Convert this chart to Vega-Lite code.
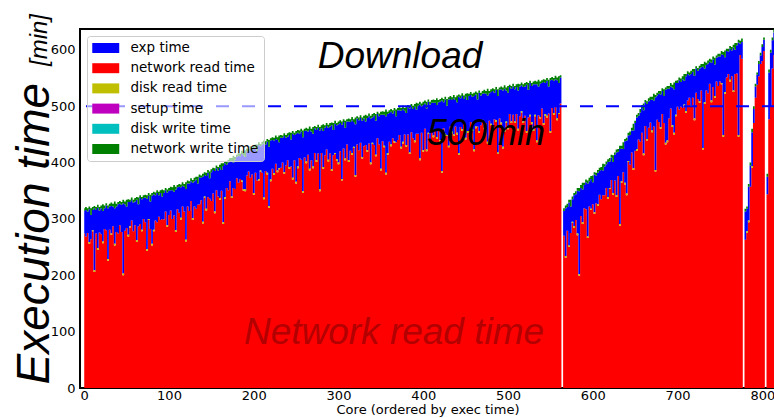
{
"$schema": "https://vega.github.io/schema/vega-lite/v6.json",
"width": 695, "height": 359,
"autosize": {"type": "none"},
"padding": {"left": 80, "top": 29, "right": 0, "bottom": 30},
"background": "white",
"config": {"view": {"stroke": "black", "strokeWidth": 2}, "axis": {"grid": false, "domain": false, "ticks": false}},
"layer": [
{
"data": {"values": [
{"i":0,"a":274,"c":40,"d":5},{"i":2,"a":269,"c":47,"d":5},{"i":4,"a":275,"c":38,"d":6},{"i":6,"a":256,"b":3,"c":58,"d":5},{"i":8,"a":264,"c":43,"d":12},{"i":10,"a":278,"b":2,"c":36,"d":5},{"i":12,"a":206,"b":3,"c":110,"d":4},{"i":14,"a":274,"c":42,"d":5},{"i":16,"a":245,"b":3,"c":72,"d":5},{"i":18,"a":276,"c":39,"d":6},
{"i":20,"a":273,"c":46,"d":5},{"i":22,"a":257,"b":3,"c":54,"d":12},{"i":24,"a":282,"c":37,"d":5},{"i":26,"a":280,"c":44,"d":4},{"i":28,"a":226,"b":3,"c":90,"d":5},{"i":30,"a":281,"c":41,"d":5},{"i":32,"a":272,"b":2,"c":49,"d":6},{"i":34,"a":287,"c":35,"d":5},{"i":36,"a":253,"b":3,"c":63,"d":12},{"i":38,"a":277,"c":45,"d":5},
{"i":40,"a":274,"c":52,"d":4},{"i":42,"a":289,"c":38,"d":5},{"i":44,"a":277,"c":48,"d":5},{"i":46,"a":200,"b":3,"c":125,"d":6},{"i":48,"a":279,"c":47,"d":5},{"i":50,"a":284,"c":38,"d":12},{"i":52,"a":269,"b":3,"c":58,"d":5},{"i":54,"a":285,"b":2,"c":43,"d":4},{"i":56,"a":297,"c":36,"d":5},{"i":58,"a":278,"c":51,"d":5},
{"i":60,"a":289,"c":42,"d":6},{"i":62,"a":259,"b":3,"c":72,"d":5},{"i":64,"a":287,"c":39,"d":12},{"i":66,"a":291,"c":46,"d":5},{"i":68,"a":278,"b":3,"c":54,"d":4},{"i":70,"a":300,"c":37,"d":5},{"i":72,"a":294,"c":44,"d":5},{"i":74,"a":243,"b":3,"c":90,"d":6},{"i":76,"a":298,"b":2,"c":41,"d":5},{"i":78,"a":282,"c":49,"d":12},
{"i":80,"a":253,"b":3,"c":85,"d":5},{"i":82,"a":278,"b":3,"c":63,"d":4},{"i":84,"a":297,"c":45,"d":5},{"i":86,"a":294,"c":52,"d":5},{"i":88,"a":304,"c":38,"d":6},{"i":90,"a":298,"c":48,"d":5},{"i":92,"a":300,"c":40,"d":12},{"i":94,"a":299,"c":47,"d":5},{"i":96,"a":313,"c":38,"d":4},{"i":98,"a":286,"b":3,"c":58,"d":5},
{"i":100,"a":307,"c":43,"d":5},{"i":102,"a":315,"c":36,"d":6},{"i":104,"a":300,"c":51,"d":5},{"i":106,"a":306,"c":42,"d":12},{"i":108,"a":277,"b":3,"c":72,"d":5},{"i":110,"a":317,"c":39,"d":4},{"i":112,"a":311,"c":46,"d":5},{"i":114,"a":299,"b":3,"c":54,"d":5},{"i":116,"a":322,"c":37,"d":6},{"i":118,"a":313,"c":44,"d":5},
{"i":120,"a":260,"b":3,"c":90,"d":12},{"i":122,"a":322,"c":41,"d":5},{"i":124,"a":314,"c":49,"d":4},{"i":126,"a":332,"c":35,"d":5},{"i":128,"a":298,"b":3,"c":63,"d":5},{"i":130,"a":322,"c":45,"d":6},{"i":132,"a":318,"c":52,"d":5},{"i":134,"a":325,"c":38,"d":12},{"i":136,"a":326,"c":48,"d":5},{"i":138,"a":333,"c":40,"d":4},
{"i":140,"a":292,"b":3,"c":80,"d":5},{"i":142,"a":338,"b":2,"c":38,"d":5},{"i":144,"a":315,"b":3,"c":58,"d":6},{"i":146,"a":339,"c":43,"d":5},{"i":148,"a":336,"c":36,"d":12},{"i":150,"a":332,"c":51,"d":5},{"i":152,"a":345,"c":42,"d":4},{"i":154,"a":310,"b":3,"c":72,"d":5},{"i":156,"a":351,"c":39,"d":5},{"i":158,"a":340,"c":46,"d":6},
{"i":160,"a":334,"b":3,"c":54,"d":5},{"i":162,"a":350,"c":37,"d":12},{"i":164,"a":291,"b":3,"c":100,"d":5},{"i":166,"a":336,"b":3,"c":60,"d":4},{"i":168,"a":355,"c":41,"d":5},{"i":170,"a":351,"c":49,"d":5},{"i":172,"a":367,"c":35,"d":6},{"i":174,"a":337,"b":3,"c":63,"d":5},{"i":176,"a":355,"c":45,"d":12},{"i":178,"a":353,"c":52,"d":5},
{"i":180,"a":372,"c":38,"d":4},{"i":182,"a":364,"c":48,"d":5},{"i":184,"a":371,"c":40,"d":5},{"i":186,"a":366,"b":2,"c":47,"d":6},{"i":188,"a":350,"b":3,"c":60,"d":5},{"i":190,"a":349,"b":3,"c":58,"d":12},{"i":192,"a":377,"c":43,"d":5},{"i":194,"a":384,"c":36,"d":4},{"i":196,"a":373,"c":51,"d":5},{"i":198,"a":379,"c":42,"d":5},
{"i":200,"a":343,"b":3,"c":78,"d":6},{"i":202,"a":382,"c":45,"d":5},{"i":204,"a":368,"c":52,"d":12},{"i":206,"a":368,"b":3,"c":60,"d":5},{"i":208,"a":384,"b":2,"c":43,"d":4},{"i":210,"a":382,"c":50,"d":5},{"i":212,"a":335,"b":3,"c":96,"d":5},{"i":214,"a":385,"c":47,"d":6},{"i":216,"a":379,"b":3,"c":55,"d":5},{"i":218,"a":320,"b":3,"c":105,"d":12},
{"i":220,"a":367,"b":3,"c":69,"d":4},{"i":222,"a":389,"c":51,"d":5},{"i":224,"a":378,"b":3,"c":58,"d":5},{"i":226,"a":398,"c":44,"d":6},{"i":228,"a":383,"b":3,"c":54,"d":5},{"i":230,"a":388,"b":2,"c":46,"d":12},{"i":232,"a":391,"c":53,"d":5},{"i":234,"a":400,"c":44,"d":4},{"i":236,"a":380,"b":3,"c":64,"d":5},{"i":238,"a":395,"c":49,"d":5},
{"i":240,"a":404,"c":42,"d":6},{"i":242,"a":389,"b":3,"c":57,"d":5},{"i":244,"a":393,"c":48,"d":12},{"i":246,"a":370,"b":3,"c":78,"d":5},{"i":248,"a":404,"c":45,"d":4},{"i":250,"a":363,"b":3,"c":85,"d":5},{"i":252,"a":390,"b":3,"c":60,"d":5},{"i":254,"a":408,"c":43,"d":6},{"i":256,"a":405,"c":50,"d":5},{"i":258,"a":346,"b":3,"c":96,"d":12},
{"i":260,"a":409,"c":47,"d":4},{"i":262,"a":399,"b":3,"c":55,"d":5},{"i":264,"a":414,"c":41,"d":5},{"i":266,"a":386,"b":3,"c":69,"d":6},{"i":268,"a":404,"c":51,"d":5},{"i":270,"a":390,"b":3,"c":58,"d":12},{"i":272,"a":417,"c":44,"d":4},{"i":274,"a":401,"b":3,"c":54,"d":5},{"i":276,"a":416,"c":46,"d":5},{"i":278,"a":349,"b":3,"c":105,"d":6},
{"i":280,"a":417,"c":44,"d":5},{"i":282,"a":389,"b":3,"c":64,"d":12},{"i":284,"a":413,"c":49,"d":4},{"i":286,"a":423,"c":42,"d":5},{"i":288,"a":402,"b":3,"c":57,"d":5},{"i":290,"a":416,"c":48,"d":6},{"i":292,"a":385,"b":3,"c":78,"d":5},{"i":294,"a":413,"c":45,"d":12},{"i":296,"a":415,"b":2,"c":52,"d":5},{"i":298,"a":403,"b":3,"c":60,"d":4},
{"i":300,"a":397,"b":3,"c":68,"d":5},{"i":302,"a":420,"c":50,"d":5},{"i":304,"a":368,"b":3,"c":96,"d":6},{"i":306,"a":425,"c":47,"d":5},{"i":308,"a":404,"b":3,"c":55,"d":12},{"i":310,"a":432,"c":41,"d":4},{"i":312,"a":401,"b":3,"c":69,"d":5},{"i":314,"a":421,"c":51,"d":5},{"i":316,"a":414,"b":3,"c":58,"d":6},{"i":318,"a":426,"b":2,"c":44,"d":5},
{"i":320,"a":375,"b":3,"c":90,"d":12},{"i":322,"a":432,"c":46,"d":4},{"i":324,"a":422,"c":53,"d":5},{"i":326,"a":435,"c":44,"d":5},{"i":328,"a":407,"b":3,"c":64,"d":6},{"i":330,"a":429,"c":49,"d":5},{"i":332,"a":431,"c":42,"d":12},{"i":334,"a":419,"b":3,"c":57,"d":4},{"i":336,"a":434,"c":48,"d":5},{"i":338,"a":397,"b":3,"c":78,"d":5},
{"i":340,"a":433,"b":2,"c":45,"d":6},{"i":342,"a":431,"c":52,"d":5},{"i":344,"a":411,"b":3,"c":60,"d":12},{"i":346,"a":443,"c":43,"d":4},{"i":348,"a":432,"c":50,"d":5},{"i":350,"a":386,"b":3,"c":96,"d":5},{"i":352,"a":438,"c":47,"d":6},{"i":354,"a":427,"b":3,"c":55,"d":5},{"i":356,"a":379,"b":3,"c":100,"d":12},{"i":358,"a":414,"b":3,"c":69,"d":4},
{"i":360,"a":437,"c":51,"d":5},{"i":362,"a":429,"b":3,"c":58,"d":5},{"i":364,"a":443,"c":44,"d":6},{"i":366,"a":435,"b":3,"c":54,"d":5},{"i":368,"a":436,"c":46,"d":12},{"i":370,"a":440,"c":53,"d":4},{"i":372,"a":449,"c":44,"d":5},{"i":374,"a":425,"b":3,"c":64,"d":5},{"i":376,"a":434,"b":3,"c":58,"d":6},{"i":378,"a":450,"c":42,"d":5},
{"i":380,"a":428,"b":3,"c":57,"d":12},{"i":382,"a":450,"c":48,"d":4},{"i":384,"a":415,"b":3,"c":78,"d":5},{"i":386,"a":454,"c":45,"d":5},{"i":388,"a":443,"c":52,"d":6},{"i":390,"a":436,"b":3,"c":60,"d":5},{"i":392,"a":451,"c":43,"d":12},{"i":394,"a":451,"c":50,"d":4},{"i":396,"a":404,"b":3,"c":96,"d":5},{"i":398,"a":453,"c":47,"d":5},
{"i":400,"a":419,"b":3,"c":80,"d":6},{"i":402,"a":460,"c":45,"d":5},{"i":404,"a":420,"b":3,"c":73,"d":12},{"i":406,"a":451,"b":2,"c":55,"d":4},{"i":408,"a":438,"b":3,"c":62,"d":5},{"i":410,"a":458,"c":48,"d":5},{"i":412,"a":445,"b":3,"c":58,"d":6},{"i":414,"a":456,"c":50,"d":5},{"i":416,"a":442,"b":3,"c":57,"d":12},{"i":418,"a":459,"c":48,"d":4},
{"i":420,"a":437,"b":3,"c":68,"d":5},{"i":422,"a":382,"b":3,"c":125,"d":5},{"i":424,"a":461,"c":46,"d":6},{"i":426,"a":448,"b":3,"c":61,"d":5},{"i":428,"a":447,"b":2,"c":52,"d":12},{"i":430,"a":427,"b":3,"c":82,"d":4},{"i":432,"a":464,"c":49,"d":5},{"i":434,"a":452,"b":3,"c":56,"d":5},{"i":436,"a":447,"b":3,"c":64,"d":6},{"i":438,"a":464,"c":47,"d":5},
{"i":440,"a":450,"b":3,"c":54,"d":12},{"i":442,"a":414,"b":3,"c":100,"d":4},{"i":444,"a":463,"c":51,"d":5},{"i":446,"a":456,"b":3,"c":59,"d":5},{"i":448,"a":468,"c":45,"d":6},{"i":450,"a":441,"b":3,"c":73,"d":5},{"i":452,"a":453,"b":3,"c":55,"d":12},{"i":454,"a":453,"b":3,"c":62,"d":4},{"i":456,"a":472,"c":48,"d":5},{"i":458,"a":456,"b":3,"c":58,"d":5},
{"i":460,"a":420,"b":3,"c":95,"d":6},{"i":462,"a":461,"b":3,"c":57,"d":5},{"i":464,"a":464,"c":48,"d":12},{"i":466,"a":453,"b":3,"c":68,"d":4},{"i":468,"a":466,"c":53,"d":5},{"i":470,"a":476,"c":46,"d":5},{"i":472,"a":459,"b":3,"c":61,"d":6},{"i":474,"a":470,"c":52,"d":5},{"i":476,"a":434,"b":3,"c":82,"d":12},{"i":478,"a":474,"c":49,"d":4},
{"i":480,"a":466,"b":3,"c":56,"d":5},{"i":482,"a":460,"b":3,"c":64,"d":5},{"i":484,"a":477,"c":47,"d":6},{"i":486,"a":472,"b":3,"c":54,"d":5},{"i":488,"a":415,"b":3,"c":100,"d":12},{"i":490,"a":478,"c":51,"d":4},{"i":492,"a":468,"b":3,"c":59,"d":5},{"i":494,"a":425,"b":3,"c":100,"d":5},{"i":496,"a":455,"b":3,"c":73,"d":6},{"i":498,"a":470,"b":3,"c":55,"d":5},
{"i":500,"a":459,"b":3,"c":62,"d":12},{"i":502,"a":486,"c":48,"d":4},{"i":504,"a":470,"b":3,"c":58,"d":5},{"i":506,"a":485,"c":50,"d":5},{"i":508,"a":470,"b":3,"c":57,"d":6},{"i":510,"a":486,"c":48,"d":5},{"i":512,"a":457,"b":3,"c":68,"d":12},{"i":514,"a":482,"c":53,"d":4},{"i":516,"a":489,"b":2,"c":46,"d":5},{"i":518,"a":470,"b":3,"c":61,"d":5},
{"i":520,"a":483,"c":52,"d":6},{"i":522,"a":453,"b":3,"c":82,"d":5},{"i":524,"a":480,"c":49,"d":12},{"i":526,"a":482,"b":3,"c":56,"d":4},{"i":528,"a":469,"b":3,"c":64,"d":5},{"i":530,"a":456,"b":3,"c":80,"d":5},{"i":532,"a":482,"b":3,"c":54,"d":6},{"i":534,"a":436,"b":3,"c":100,"d":5},{"i":536,"a":484,"c":51,"d":12},{"i":538,"a":478,"b":3,"c":59,"d":4},
{"i":540,"a":496,"c":45,"d":5},{"i":542,"a":467,"b":3,"c":73,"d":5},{"i":544,"a":483,"b":3,"c":55,"d":6},{"i":546,"a":480,"b":3,"c":62,"d":5},{"i":548,"a":487,"c":48,"d":12},{"i":550,"a":453,"b":3,"c":90,"d":4},{"i":552,"a":497,"c":50,"d":5},{"i":554,"a":485,"b":3,"c":57,"d":5},{"i":556,"a":500,"c":48,"d":6},{"i":558,"a":475,"b":3,"c":68,"d":5},
{"i":560,"a":486,"b":2,"c":53,"d":12},{"i":562,"a":505,"c":46,"d":4},{"i":564,"a":0,"c":0,"d":0},
{"i":566,"a":270,"c":44,"d":5},{"i":568,"a":231,"b":3,"c":85,"d":5},{"i":570,"a":279,"c":42,"d":6},{"i":572,"a":250,"b":3,"c":76,"d":5},{"i":574,"a":275,"c":47,"d":12},{"i":576,"a":293,"b":2,"c":40,"d":5},{"i":578,"a":284,"b":3,"c":55,"d":4},{"i":580,"a":298,"c":46,"d":5},{"i":582,"a":271,"b":3,"c":76,"d":5},{"i":584,"a":199,"b":3,"c":147,"d":6},
{"i":586,"a":305,"c":50,"d":5},{"i":588,"a":291,"b":3,"c":58,"d":12},{"i":590,"a":319,"c":41,"d":4},{"i":592,"a":317,"c":48,"d":5},{"i":594,"a":266,"b":3,"c":94,"d":5},{"i":596,"a":322,"c":45,"d":6},{"i":598,"a":316,"b":2,"c":53,"d":5},{"i":600,"a":326,"c":39,"d":12},{"i":602,"a":309,"b":3,"c":67,"d":4},{"i":604,"a":328,"c":49,"d":5},
{"i":606,"a":323,"b":3,"c":56,"d":5},{"i":608,"a":343,"c":42,"d":6},{"i":610,"a":335,"c":52,"d":5},{"i":612,"a":342,"c":44,"d":12},{"i":614,"a":342,"c":51,"d":4},{"i":616,"a":355,"c":42,"d":5},{"i":618,"a":336,"b":3,"c":62,"d":5},{"i":620,"a":353,"b":2,"c":47,"d":6},{"i":622,"a":369,"c":40,"d":5},{"i":624,"a":343,"b":3,"c":55,"d":12},
{"i":626,"a":368,"c":46,"d":4},{"i":628,"a":339,"b":3,"c":76,"d":5},{"i":630,"a":376,"c":43,"d":5},{"i":632,"a":288,"b":3,"c":133,"d":6},{"i":634,"a":364,"b":3,"c":58,"d":5},{"i":636,"a":383,"c":41,"d":12},{"i":638,"a":361,"b":3,"c":74,"d":4},{"i":640,"a":342,"b":3,"c":94,"d":5},{"i":642,"a":401,"b":2,"c":45,"d":5},{"i":644,"a":396,"c":53,"d":6},
{"i":646,"a":418,"c":39,"d":5},{"i":648,"a":387,"b":3,"c":67,"d":12},{"i":650,"a":421,"c":49,"d":4},{"i":652,"a":421,"b":3,"c":56,"d":5},{"i":654,"a":441,"c":42,"d":5},{"i":656,"a":437,"c":52,"d":6},{"i":658,"a":453,"c":44,"d":5},{"i":660,"a":413,"b":3,"c":77,"d":12},{"i":662,"a":465,"c":42,"d":4},{"i":664,"a":439,"b":3,"c":62,"d":5},
{"i":666,"a":462,"c":47,"d":5},{"i":668,"a":471,"c":40,"d":6},{"i":670,"a":454,"b":3,"c":55,"d":5},{"i":672,"a":464,"c":46,"d":12},{"i":674,"a":384,"b":3,"c":129,"d":4},{"i":676,"a":476,"c":43,"d":5},{"i":678,"a":472,"c":50,"d":5},{"i":680,"a":460,"b":3,"c":58,"d":6},{"i":682,"a":486,"c":41,"d":5},{"i":684,"a":470,"c":48,"d":12},
{"i":686,"a":432,"b":3,"c":94,"d":4},{"i":688,"a":436,"b":3,"c":92,"d":5},{"i":690,"a":478,"c":53,"d":5},{"i":692,"a":496,"c":39,"d":6},{"i":694,"a":463,"b":3,"c":67,"d":5},{"i":696,"a":450,"b":3,"c":77,"d":12},{"i":698,"a":482,"b":3,"c":56,"d":4},{"i":700,"a":499,"c":42,"d":5},{"i":702,"a":494,"c":52,"d":5},{"i":704,"a":499,"c":44,"d":6},
{"i":706,"a":497,"c":51,"d":5},{"i":708,"a":501,"b":2,"c":42,"d":12},{"i":710,"a":488,"b":3,"c":62,"d":4},{"i":712,"a":510,"c":47,"d":5},{"i":714,"a":515,"c":40,"d":5},{"i":716,"a":499,"b":3,"c":55,"d":6},{"i":718,"a":515,"c":46,"d":5},{"i":720,"a":475,"b":3,"c":76,"d":12},{"i":722,"a":524,"c":43,"d":4},{"i":724,"a":513,"c":50,"d":5},
{"i":726,"a":506,"b":3,"c":58,"d":5},{"i":728,"a":528,"c":41,"d":6},{"i":730,"a":423,"b":3,"c":144,"d":5},{"i":732,"a":504,"b":3,"c":60,"d":12},{"i":734,"a":528,"c":45,"d":4},{"i":736,"a":523,"c":53,"d":5},{"i":738,"a":540,"c":39,"d":5},{"i":740,"a":507,"b":3,"c":67,"d":6},{"i":742,"a":534,"c":49,"d":5},{"i":744,"a":515,"b":3,"c":56,"d":12},
{"i":746,"a":544,"c":42,"d":4},{"i":748,"a":536,"c":52,"d":5},{"i":750,"a":544,"c":44,"d":5},{"i":752,"a":539,"b":2,"c":51,"d":6},{"i":754,"a":446,"b":3,"c":142,"d":5},{"i":756,"a":522,"b":3,"c":62,"d":12},{"i":758,"a":551,"c":47,"d":4},{"i":760,"a":557,"c":40,"d":5},{"i":762,"a":544,"b":3,"c":55,"d":5},{"i":764,"a":553,"c":46,"d":6},
{"i":766,"a":525,"b":3,"c":76,"d":5},{"i":768,"a":557,"c":43,"d":12},{"i":770,"a":558,"c":50,"d":4},{"i":772,"a":446,"b":3,"c":164,"d":5},{"i":774,"a":591,"c":20,"d":5},{"i":776,"a":584,"c":30,"d":6},{"i":778,"a":0,"c":0,"d":0},
{"i":780,"a":263,"c":50,"d":5},{"i":782,"a":275,"b":3,"c":40,"d":4},{"i":784,"a":294,"b":3,"c":60,"d":5},{"i":786,"a":357,"c":38,"d":5},{"i":788,"a":391,"b":3,"c":60,"d":6},{"i":790,"a":470,"c":25,"d":5},{"i":792,"a":515,"c":20,"d":5},{"i":794,"a":538,"c":18,"d":4},{"i":796,"a":553,"c":22,"d":5},{"i":798,"a":575,"c":15,"d":5},{"i":800,"a":580,"c":25,"d":5},{"i":802,"a":598,"c":20,"d":4},{"i":804,"a":0,"c":0,"d":0},
{"i":806,"a":344,"c":31,"d":5},{"i":808,"a":477,"c":83,"d":5},{"i":810,"a":500,"c":95,"d":5},{"i":812,"a":567,"c":50,"d":5},{"i":814,"a":591,"c":40,"d":5}
]},
"transform": [{"fold": ["a","b","c","d"], "as": ["k","v"]}, {"filter": "isValid(datum.v)"}],
"mark": {"type": "area", "interpolate": "step", "line": false},
"encoding": {
"x": {"field": "i", "type": "quantitative", "scale": {"domain": [-5, 815], "nice": false, "zero": false, "padding": 0},
 "axis": {"values": [0,100,200,300,400,500,600,700,800], "title": "Core (ordered by exec time)", "titleFont": "DejaVu Sans", "titleFontSize": 13, "titleFontWeight": "normal", "titleColor": "black", "titlePadding": 1, "labelFont": "DejaVu Sans", "labelFontSize": 13, "labelColor": "black", "labelPadding": 1, "labelFlush": false, "labelOverlap": false}},
"y": {"field": "v", "type": "quantitative", "stack": "zero", "scale": {"domain": [0, 637], "nice": false},
 "axis": {"values": [0,100,200,300,400,500,600], "title": "Execution time", "titleFont": "Liberation Sans", "titleFontStyle": "italic", "titleFontWeight": "normal", "titleFontSize": 46, "titleColor": "black", "titleAngle": 270, "titleAlign": "left", "titleBaseline": "alphabetic", "titleX": -32, "titleY": 355, "labelFont": "DejaVu Sans", "labelFontSize": 13, "labelColor": "black", "labelPadding": 5, "labelFlush": false, "labelOverlap": false}},
"color": {"field": "k", "type": "nominal",
 "scale": {"domain": ["c","a","b","s","t","d"], "range": ["#0000ff","#ff0000","#bfbf00","#bf00bf","#00bfbf","#008000"]},
 "legend": {"orient": "top-left", "offset": 7, "title": null, "labelFont": "DejaVu Sans", "labelFontSize": 13.5, "labelColor": "black",
  "labelExpr": "datum.value=='c'?'exp time':datum.value=='a'?'network read time':datum.value=='b'?'disk read time':datum.value=='s'?'setup time':datum.value=='t'?'disk write time':'network write time'",
  "symbolType": "M-2,-0.74H2V0.74H-2Z", "symbolSize": 182, "symbolStrokeWidth": 0, "symbolOpacity": 1, "symbolOffset": 6.75,
  "labelOffset": 17.75, "padding": 5, "rowPadding": 6.2, "fillColor": "rgba(255,255,255,0.6)", "strokeColor": "#cccccc", "cornerRadius": 3}},
"order": {"field": "k", "sort": "ascending"}
}
},
{"data": {"values": [{}]}, "mark": {"type": "rule", "color": "#0000ff", "strokeWidth": 2, "strokeDash": [13, 13]}, "encoding": {"y": {"datum": 500}}},
{"data": {"values": [{}]}, "mark": {"type": "text", "text": "Download", "font": "Liberation Sans", "fontStyle": "italic", "fontSize": 37, "color": "black", "align": "center", "baseline": "alphabetic"}, "encoding": {"x": {"datum": 372.6}, "y": {"datum": 568}}},
{"data": {"values": [{}]}, "mark": {"type": "text", "text": "500min", "font": "Liberation Sans", "fontStyle": "italic", "fontSize": 36, "color": "black", "align": "center", "baseline": "alphabetic"}, "encoding": {"x": {"datum": 474}, "y": {"datum": 431}}},
{"data": {"values": [{}]}, "mark": {"type": "text", "text": "Network read time", "font": "Liberation Sans", "fontStyle": "italic", "fontSize": 37, "color": "#b30000", "align": "center", "baseline": "alphabetic"}, "encoding": {"x": {"datum": 365.5}, "y": {"datum": 78}}},
{"data": {"values": [{}]}, "mark": {"type": "text", "text": "[min]", "font": "Liberation Sans", "fontStyle": "italic", "fontSize": 24, "color": "black", "align": "center", "baseline": "alphabetic", "angle": 270}, "encoding": {"x": {"datum": -43.9}, "y": {"datum": 617.5}}}
]
}
